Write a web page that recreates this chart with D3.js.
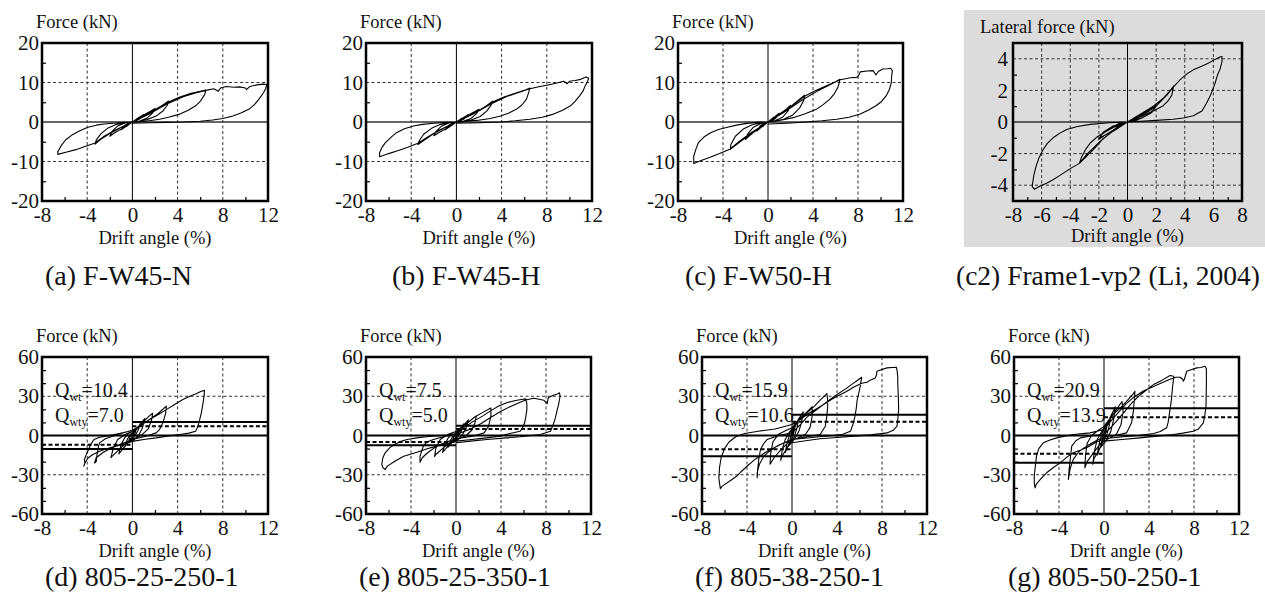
<!DOCTYPE html>
<html>
<head>
<meta charset="utf-8">
<script src="https://cdn.jsdelivr.net/npm/d3@7"></script>
<style>
  body { margin: 0; background: #fff; }
  svg text { font-family: "Liberation Serif", "Times New Roman", serif; fill: #111; }
</style>
</head>
<body>
<svg id="chart" width="1265" height="601"></svg>
<script>
// ---- data ----
const captions = [
    '(a) F-W45-N', '(b) F-W45-H', '(c) F-W50-H', '(c2) Frame1-vp2 (Li, 2004)',
    '(d) 805-25-250-1', '(e) 805-25-350-1', '(f) 805-38-250-1', '(g) 805-50-250-1',
];
const yTitles = [
    'Force (kN)', 'Force (kN)', 'Force (kN)', 'Lateral force (kN)',
    'Force (kN)', 'Force (kN)', 'Force (kN)', 'Force (kN)',
];
const xTitle = 'Drift angle (%)';

const xTicksWide = [-8, -4, 0, 4, 8, 12];
const xMinorWide = [-6, -2, 2, 6, 10];
const xTicksLi = [-8, -6, -4, -2, 0, 2, 4, 6, 8];
const xMinorLi = [-7, -5, -3, -1, 1, 3, 5, 7];
const yTicksTop = [-20, -10, 0, 10, 20];
const yMinorTop = [-15, -5, 5, 15];
const yTicksLi = [-4, -2, 0, 2, 4];
const yMinorLi = [-3, -1, 1, 3];
const yTicksBottom = [-60, -30, 0, 30, 60];
const yMinorBottom = [-50, -40, -20, -10, 10, 20, 40, 50];

const qwtValues = [10.4, 7.5, 15.9, 20.9];
const qwtyValues = [7.0, 5.0, 10.6, 13.9];

// drift angle (%), force (kN)
const curveA = [
    [0,0],[0.3,0.6],[0.5,1.0],[0.3,0.4],[0,0],[-0.3,-0.6],[-0.5,-1.1],[-0.3,-0.4],[0,0],
    [0.5,1.0],[1.0,1.9],[0.7,0.9],[0.3,0.2],[0,0],[-0.5,-1.0],[-1.0,-2.0],[-0.7,-0.9],[-0.3,-0.2],[0,0],
    [1.0,1.8],[1.6,2.7],[2.0,3.4],[1.8,2.3],[1.3,1.0],[0.6,0.2],[0,0],[-1.0,-1.8],[-1.6,-2.8],[-2.0,-3.6],[-1.8,-2.4],[-1.3,-1.0],[-0.6,-0.2],[0,0],
    [1.0,1.6],[2.0,3.1],[2.7,4.3],[3.2,5.3],[3.1,4.3],[2.7,2.8],[2.1,1.5],[1.3,0.6],[0.5,0.1],[0,0],
    [-1.0,-1.4],[-2.0,-2.9],[-2.8,-4.4],[-3.3,-5.6],[-3.2,-4.6],[-2.8,-3.0],[-2.2,-1.6],[-1.4,-0.6],[-0.5,-0.1],[0,0],
    [1.5,2.3],[2.5,3.8],[3.3,5.2],[4.2,6.3],[5.2,7.3],[6.0,7.8],[6.5,8.1],[6.4,7.0],[6.0,5.2],[5.6,4.1],[4.9,2.9],[4.2,2.0],[3.2,1.2],[2.4,0.7],[1.2,0.2],[0,0],
    [-1.5,-2.0],[-2.5,-3.6],[-3.3,-5.3],[-4.2,-6.2],[-5.0,-7.0],[-5.8,-7.6],[-6.6,-8.2],[-6.6,-7.5],[-6.3,-6.0],[-5.9,-4.5],[-5.3,-3.2],[-4.7,-2.3],[-4.0,-1.4],[-3.2,-0.8],[-2.5,-0.5],[-1.7,-0.3],[-0.8,-0.1],[0,0],
    [1.5,2.0],[3.0,4.5],[4.5,6.4],[5.5,7.3],[6.5,8.0],[7.2,8.4],[7.6,7.8],[7.8,8.6],[8.3,9.0],[9.0,8.8],[9.5,8.9],[10.0,8.6],[10.1,8.2],[10.4,9.0],[11.0,9.4],[11.6,9.6],[11.9,9.5],
    [11.8,8.5],[11.6,7.4],[11.2,5.8],[10.8,4.4],[10.3,3.2],[9.6,2.3],[8.9,1.5],[8.0,0.9],[7.1,0.5],[6.0,0.2],[4.5,0.0],[3.0,-0.1],[1.5,-0.2],[0,-0.3],
];
const curveB = [
    [0,0],[0.3,0.6],[0.5,1.0],[0.3,0.4],[0,0],[-0.3,-0.6],[-0.5,-1.0],[-0.3,-0.4],[0,0],
    [0.5,0.9],[1.0,1.8],[0.7,0.8],[0.3,0.2],[0,0],[-0.5,-1.0],[-1.0,-2.0],[-0.7,-0.9],[-0.3,-0.2],[0,0],
    [1.0,1.7],[1.6,2.6],[2.0,3.2],[1.8,2.2],[1.3,0.9],[0.6,0.2],[0,0],[-1.0,-1.8],[-1.6,-2.8],[-2.0,-3.5],[-1.8,-2.4],[-1.3,-1.0],[-0.6,-0.2],[0,0],
    [1.0,1.5],[2.0,2.9],[2.7,4.2],[3.2,5.3],[3.1,4.4],[2.7,2.8],[2.1,1.4],[1.3,0.5],[0.5,0.1],[0,0],
    [-1.0,-1.4],[-2.0,-2.9],[-2.8,-4.5],[-3.4,-5.7],[-3.3,-4.8],[-2.9,-3.1],[-2.2,-1.6],[-1.4,-0.6],[-0.5,-0.1],[0,0],
    [1.5,2.2],[2.5,3.7],[3.3,5.2],[4.2,6.3],[5.2,7.3],[6.0,8.0],[6.5,8.6],[6.4,7.5],[6.2,5.8],[5.8,4.3],[5.3,3.2],[4.6,2.2],[3.9,1.5],[3.0,0.9],[1.8,0.4],[0,0],
    [-1.5,-2.0],[-2.5,-3.7],[-3.4,-5.4],[-4.3,-6.4],[-5.2,-7.3],[-6.0,-8.0],[-6.8,-8.8],[-6.8,-7.8],[-6.6,-6.5],[-6.3,-5.3],[-5.8,-3.9],[-5.3,-2.7],[-4.6,-1.7],[-3.8,-1.0],[-3.0,-0.6],[-2.0,-0.3],[-1.0,-0.1],[0,0],
    [1.5,2.0],[3.0,4.5],[4.5,6.5],[5.5,7.5],[6.5,8.4],[7.4,9.0],[8.0,9.3],[8.8,9.8],[9.5,10.3],[9.8,9.7],[10.0,10.3],[10.5,10.5],[11.0,10.8],[11.3,11.2],[11.5,11.4],[11.7,11.1],
    [11.6,10.2],[11.4,9.2],[11.2,7.8],[10.9,6.6],[10.5,5.2],[10.1,4.1],[9.4,3.0],[8.6,2.0],[7.6,1.2],[6.5,0.7],[5.2,0.3],[3.9,0.0],[2.0,-0.2],[0,-0.3],
];
const curveC = [
    [0,0],[0.3,0.7],[0.5,1.2],[0.3,0.5],[0,0],[-0.3,-0.7],[-0.5,-1.2],[-0.3,-0.5],[0,0],
    [0.5,1.1],[1.0,2.2],[0.7,1.0],[0.3,0.2],[0,0],[-0.5,-1.1],[-1.0,-2.3],[-0.7,-1.0],[-0.3,-0.2],[0,0],
    [1.0,2.0],[1.6,3.2],[2.0,4.2],[1.8,2.9],[1.3,1.2],[0.6,0.3],[0,0],[-1.0,-2.0],[-1.6,-3.4],[-2.0,-4.4],[-1.8,-3.0],[-1.3,-1.3],[-0.6,-0.3],[0,0],
    [1.0,1.9],[2.0,3.9],[2.7,5.5],[3.25,6.8],[3.2,5.6],[2.8,3.5],[2.2,1.8],[1.4,0.7],[0.5,0.1],[0,0],
    [-1.0,-1.9],[-2.0,-4.0],[-2.8,-5.7],[-3.35,-6.9],[-3.3,-5.7],[-2.9,-3.6],[-2.2,-1.8],[-1.4,-0.7],[-0.5,-0.1],[0,0],
    [1.5,2.9],[2.5,4.9],[3.3,6.6],[4.2,7.9],[5.2,9.2],[6.0,10.2],[6.4,10.8],[6.3,9.6],[6.2,8.7],[5.9,7.2],[5.5,5.8],[4.9,4.4],[4.3,3.2],[3.3,2.1],[2.25,1.1],[1.0,0.4],[0,0],
    [-1.5,-2.7],[-2.5,-4.8],[-3.4,-6.9],[-4.3,-8.0],[-5.2,-9.0],[-6.0,-9.8],[-6.6,-10.5],[-6.6,-9.6],[-6.6,-8.6],[-6.4,-6.8],[-6.2,-5.3],[-5.7,-3.8],[-5.1,-2.7],[-4.4,-1.9],[-3.7,-1.4],[-2.8,-0.8],[-1.9,-0.35],[-0.9,-0.1],[0,0],
    [1.5,2.6],[3.0,5.5],[4.5,8.0],[5.5,9.4],[6.4,10.7],[7.0,11.0],[7.3,11.2],[7.9,11.3],[8.1,12.0],[8.2,12.7],[8.8,12.9],[9.35,13.0],[9.6,11.9],[9.8,12.8],[10.2,13.4],[10.6,13.5],[10.9,13.6],[11.05,13.0],
    [11.0,11.8],[10.96,10.0],[10.8,8.3],[10.5,6.6],[10.1,5.2],[9.6,4.1],[8.9,3.0],[8.15,1.95],[7.2,1.2],[6.1,0.7],[4.8,0.3],[3.4,0.0],[1.7,-0.3],[0,-0.5],
];
const curveLi = [
    [0,0],[0.5,0.25],[1.0,0.5],[0.6,0.2],[0,0],[-0.5,-0.25],[-1.0,-0.55],[-0.6,-0.2],[0,0],
    [0.7,0.35],[1.4,0.7],[2.0,1.0],[1.8,0.75],[1.3,0.4],[0.6,0.1],[0,0],[-0.7,-0.35],[-1.4,-0.75],[-2.0,-1.05],[-1.8,-0.8],[-1.3,-0.45],[-0.6,-0.1],[0,0],
    [0.8,0.45],[1.5,0.8],[2.0,1.05],[1.7,0.6],[1.0,0.25],[0,0],[-0.8,-0.4],[-1.5,-0.8],[-2.0,-1.1],[-1.7,-0.65],[-1.0,-0.25],[0,0],
    [0.9,0.5],[1.8,1.0],[2.5,1.5],[2.9,1.9],[3.22,2.28],[3.1,1.7],[2.8,1.3],[2.5,1.03],[1.9,0.75],[1.35,0.5],[0.6,0.2],[0,0],
    [-1.0,-0.58],[-1.7,-1.05],[-2.4,-1.76],[-2.9,-2.2],[-3.36,-2.62],[-3.2,-2.2],[-2.9,-1.7],[-2.6,-1.33],[-2.2,-1.0],[-1.7,-0.69],[-0.9,-0.3],[0,0],
    [0.7,0.3],[1.35,0.6],[2.0,1.0],[2.75,1.7],[3.2,2.2],[3.7,2.7],[4.16,3.05],[4.6,3.3],[5.1,3.5],[5.6,3.7],[6.0,3.9],[6.4,4.1],[6.6,4.15],
    [6.6,3.8],[6.45,3.3],[6.3,3.0],[6.1,2.4],[5.8,1.7],[5.5,1.15],[5.2,0.7],[4.6,0.4],[3.9,0.25],[3.2,0.17],[2.0,0.1],[0.9,0.04],[0,0],
    [-1.0,-0.55],[-2.0,-1.3],[-2.8,-2.0],[-3.36,-2.62],[-4.0,-2.95],[-4.72,-3.38],[-5.2,-3.65],[-5.65,-3.87],[-6.1,-4.05],[-6.5,-4.25],[-6.65,-4.1],[-6.65,-4.0],
    [-6.55,-3.4],[-6.4,-2.84],[-6.2,-2.3],[-5.9,-1.76],[-5.6,-1.35],[-5.2,-1.0],[-4.75,-0.72],[-4.25,-0.47],[-3.5,-0.28],[-2.6,-0.15],[-1.3,-0.05],[0,0],
];
const curveD = [
    [0,0],[0.2,3],[0.4,6],[0.2,1],[0,-1],[-0.2,-3],[-0.4,-6],[-0.2,-1],[0,1],
    [0.4,5],[0.7,9],[0.5,4],[0.2,-1],[-0.3,-4],[-0.7,-9],[-0.5,-4],[-0.2,1],[0,2],
    [0.5,6],[1.0,12],[1.1,13],[0.9,6],[0.6,1],[0.2,-3],[-0.5,-6],[-1.0,-12],[-1.2,-14],[-1.0,-7],[-0.7,-2],[-0.3,2],[0,3],
    [0.8,9],[1.5,15],[1.8,17],[1.7,12],[1.4,5],[0.9,1],[0.3,-2],[-0.5,-5],[-1.2,-11],[-1.8,-16],[-1.9,-17],[-1.7,-10],[-1.3,-3],[-0.6,1],[0,3],
    [0.8,8],[1.5,12.2],[2.3,17],[3.0,22.5],[2.95,17.3],[2.7,9.7],[2.4,4.5],[2.1,2],[1.2,-0.5],[0,-3],
    [-1.0,-6.5],[-1.75,-9],[-2.6,-13],[-3.2,-17],[-3.35,-21],[-3.2,-20],[-3.15,-15.8],[-3.0,-8],[-2.9,-5.6],[-2.4,-2.5],[-1.75,-0.5],[-1.0,1.5],[0,4],
    [0.8,8],[1.5,12.2],[2.3,16],[3.0,19.8],[3.7,23.5],[4.46,27.5],[5.1,30],[5.64,32],[6.0,33.5],[6.38,34.6],
    [6.35,31],[6.3,27.5],[6.2,22],[6.1,17.3],[5.95,12],[5.8,7.1],[5.6,3.3],[5.0,1.8],[4.2,0.8],[3.1,-0.5],[2.1,-1.8],[1.0,-3],[0,-4.5],
    [-0.7,-6.5],[-1.45,-8.1],[-2.2,-10],[-2.9,-12],[-3.5,-14.5],[-3.9,-17],[-4.1,-19.5],[-4.25,-22],[-4.3,-23.4],
    [-4.2,-21],[-4.25,-18.3],[-4.1,-15],[-3.95,-12],[-3.7,-7],[-3.4,-3],[-2.9,-1.3],[-2.33,-0.5],[-1.7,0.5],[-1.15,1.5],[-0.5,2.8],[0,4],
];
const curveE = [
    [0,0],[0.2,3],[0.4,6],[0.2,1],[0,-1],[-0.2,-3],[-0.4,-6],[-0.2,-1],[0,1],
    [0.4,5],[0.7,9],[0.5,4],[0.2,-1],[-0.3,-4],[-0.7,-9],[-0.5,-4],[-0.2,1],[0,2],
    [0.5,6],[1.0,11],[1.1,12],[0.9,6],[0.6,1],[0.2,-3],[-0.5,-6],[-1.0,-11],[-1.2,-13],[-1.0,-7],[-0.7,-2],[-0.3,2],[0,3],
    [0.8,8],[1.5,13],[1.8,15],[1.7,10],[1.4,4],[0.9,0],[0.3,-2.5],[-0.5,-5],[-1.2,-10],[-1.8,-14.5],[-1.9,-16],[-1.8,-10],[-1.4,-3],[-0.7,1],[0,3],
    [0.8,8],[1.57,13.5],[2.3,17.3],[3.1,21],[3.1,17.5],[3.1,14.8],[2.9,7.1],[2.5,2],[1.5,-0.5],[0,-2.5],
    [-0.8,-4.8],[-1.7,-8.1],[-2.5,-13],[-3.0,-17],[-3.2,-20.4],[-3.2,-18],[-3.2,-15.8],[-2.9,-8.1],[-2.6,-5],[-2,-3],[-1.0,-0.5],[0,0.8],
    [0.7,6],[1.57,11],[2.4,15],[3.1,19],[3.8,22.5],[4.5,25],[5.3,26.8],[5.8,27.5],[6.2,28],
    [6.3,24],[6.3,19.8],[6.2,14],[6.1,9.7],[5.9,5.5],[5.7,3.3],[4.8,1.5],[3.9,-0.5],[2.5,-2],[1.2,-3.2],[0,-4.3],
    [-1.0,-6.5],[-1.7,-8.1],[-2.5,-10],[-3.2,-12],[-3.9,-14],[-4.65,-15.8],[-5.4,-19.5],[-6.1,-23.4],[-6.3,-26],
    [-6.5,-24.5],[-6.6,-22],[-6.5,-17],[-6.3,-13.2],[-5.9,-9.5],[-5.5,-6.9],[-4.9,-4.5],[-4.35,-3],[-3.5,-1.8],[-2.6,-1],[-1.3,0],[0,0.8],
    [1.3,5],[2.2,9],[3.1,14],[4.0,18.5],[4.8,22],[5.6,25],[6.2,27.2],[6.9,28.5],[7.5,27.5],[7.8,27],[8.1,24.4],[8.2,28.8],[8.6,30.5],[9.0,31.8],[9.2,32.6],
    [9.25,30],[9.2,27.5],[9.1,23],[9.0,19.8],[8.85,14],[8.7,9.7],[8.4,3.3],[7.5,0.8],[5.7,-1],[4.2,-2],[2.75,-3],[1.3,-4.3],[0,-5.6],
];
const curveF = [
    [0,0],[0.15,4],[0.3,8],[0.15,2],[0,-2],[-0.15,-4],[-0.3,-8],[-0.15,-2],[0,2],
    [0.3,7],[0.6,13],[0.45,6],[0.2,-1],[-0.3,-7],[-0.6,-13],[-0.45,-6],[-0.2,1],[0,4],
    [0.5,11],[0.9,17],[1.0,18],[0.85,10],[0.6,3],[0.2,-3],[-0.4,-9],[-0.9,-16],[-1.0,-19],[-0.85,-10],[-0.6,-3],[-0.2,3],[0,5],
    [0.7,13],[1.33,18],[1.8,22],[1.8,15],[1.6,6],[1.2,1],[0.5,-2],[-0.3,-5],[-1.0,-11],[-1.6,-17],[-1.95,-22],[-1.9,-14],[-1.7,-5],[-1.2,1],[-0.5,4],[0,6],
    [0.7,13],[1.33,17.3],[2.0,22.5],[2.5,27],[3.1,32],[3.17,27],[3.17,22.4],[3.1,15],[2.96,7.1],[2.5,0.8],[1.3,-1],[0,-3],
    [-0.7,-5.5],[-1.33,-8.1],[-2.0,-12],[-2.5,-15.8],[-2.9,-22],[-3.1,-28.5],[-3.1,-32.3],[-3.05,-26],[-2.95,-18],[-2.8,-10.7],[-2.5,-6],[-2.2,-3],[-1.2,0],[0,2],
    [0.7,8],[1.33,14],[2.0,18.5],[2.67,22.9],[3.3,27],[4.0,31.3],[4.8,35.8],[5.5,40.2],[5.8,42],[6.2,44.5],
    [6.1,40],[6.07,37.7],[5.9,31],[5.8,27.5],[5.7,20],[5.6,14.8],[5.4,8],[5.2,3.3],[4.5,1],[3.7,0],[2.2,-1.2],[0,-3],
    [-0.8,-6],[-1.5,-9],[-2.2,-12],[-2.8,-15.5],[-3.4,-19],[-4.0,-23.5],[-4.5,-27.5],[-4.9,-31],[-5.4,-34],[-5.9,-37],[-6.2,-38.7],[-6.37,-40.7],
    [-6.5,-33],[-6.45,-25],[-6.3,-17],[-6.0,-10],[-5.6,-5],[-5.0,-1],[-4.2,1.5],[-3.0,3.3],[-1.5,5],[0,8.4],
    [0.7,12],[1.33,16],[2.0,19.5],[2.67,23],[3.5,27.5],[4.0,30],[4.8,33.5],[5.5,37],[6.2,40],[6.67,40.7],[7.0,42.5],[7.4,44],[7.5,46],[7.55,49.1],[8.0,50.5],[8.44,51.7],[8.9,52],[9.27,52.2],
    [9.33,50.4],[9.4,45],[9.4,40.2],[9.45,30],[9.48,19.8],[9.4,12],[9.33,7.1],[9.0,4],[8.44,2],[7.0,0.5],[5.48,-0.5],[4.0,-1.5],[2.5,-2.5],[1.2,-4],[0,-5.6],
];
const curveG = [
    [0,0],[0.15,4],[0.3,9],[0.15,2],[0,-2],[-0.15,-4],[-0.3,-9],[-0.15,-2],[0,2],
    [0.3,8],[0.6,15],[0.45,7],[0.2,-1],[-0.3,-8],[-0.6,-15],[-0.45,-7],[-0.2,1],[0,5],
    [0.5,13],[0.9,20],[1.0,22],[0.85,12],[0.6,3],[0.2,-4],[-0.4,-10],[-0.9,-18],[-1.0,-22],[-0.85,-12],[-0.6,-3],[-0.2,3],[0,6],
    [0.7,15],[1.2,21],[1.6,26],[1.7,18],[1.5,8],[1.1,1],[0.5,-2],[-0.3,-6],[-1.0,-14],[-1.5,-20],[-1.7,-24.7],[-1.65,-16],[-1.5,-6],[-1.1,0],[-0.5,4],[0,7],
    [0.7,15],[1.42,21],[2.0,26],[2.6,31.8],[2.75,33.8],[2.7,27.5],[2.6,18],[2.45,9.7],[2.0,2],[1.0,0],[0,-1],
    [-0.7,-4],[-1.54,-8.1],[-2.2,-12],[-2.73,-18.3],[-3.0,-25],[-3.17,-33.6],[-3.1,-26],[-3.0,-18],[-2.87,-8.1],[-2.5,-4],[-2.1,-1.8],[-1.0,0],[0,0.8],
    [0.7,7],[1.42,14],[2.0,20],[2.6,26],[3.2,31],[3.8,35],[4.4,38.9],[5.2,42.5],[5.87,45.8],[6.2,45.3],
    [6.15,41],[6.1,37.7],[6.0,28],[5.87,19.8],[5.7,10],[5.57,5.9],[5.0,3],[4.4,1.5],[3.0,0],[1.7,-1],[0,-2.5],
    [-0.8,-5.5],[-1.54,-9.4],[-2.2,-11.5],[-2.73,-13.2],[-3.3,-16.5],[-3.9,-20.9],[-4.5,-24.5],[-5.1,-28.5],[-5.6,-33],[-6.0,-37],[-6.13,-40],
    [-6.2,-36],[-6.2,-31],[-6.1,-23],[-6.0,-15.8],[-5.8,-10],[-5.4,-5.6],[-4.8,-3.5],[-4.2,-1.8],[-3.5,-0.5],[-2.7,0.8],[-1.24,2],[0,4.6],
    [0.7,12],[1.42,19],[2.0,24.5],[2.6,29],[3.5,34],[4.4,37.5],[5.2,40.5],[5.87,43],[6.4,44.5],[6.76,44.5],[7.0,43],[7.05,41.5],[7.15,43],[7.35,49.1],[7.8,50.5],[8.24,51.7],[8.6,52],[8.98,52.9],
    [9.1,51],[9.1,45],[9.1,40.2],[9.08,30],[9.07,22.4],[8.95,15],[8.83,9.7],[8.4,5],[7.94,3.3],[7.0,1.8],[6.16,0.8],[4.7,-0.5],[3.2,-1.8],[1.6,-3],[0,-4.3],
];

const curves = [curveA, curveB, curveC, curveLi, curveD, curveE, curveF, curveG];

// ---- layout (pixel boxes of each plot frame) ----
const boxes = [
    { x: 42, y: 43, w: 226, h: 158, capX: 45, capY: 285 },
    { x: 366, y: 43, w: 226, h: 158, capX: 392, capY: 285 },
    { x: 678, y: 43, w: 225, h: 158, capX: 685, capY: 285 },
    { x: 1013, y: 43, w: 229, h: 158, capX: 956, capY: 285 },
    { x: 42, y: 357, w: 226, h: 157, capX: 45, capY: 586 },
    { x: 366, y: 357, w: 225, h: 157, capX: 359, capY: 586 },
    { x: 702, y: 357, w: 225, h: 157, capX: 695, capY: 586 },
    { x: 1014, y: 357, w: 225, h: 157, capX: 1008, capY: 586 },
];

const serif = '"Liberation Serif", "Times New Roman", serif';
const svg = d3.select('#chart');

// grey backdrop behind the Li (2004) panel
svg.append('rect')
    .attr('x', 964).attr('y', 10)
    .attr('width', 301).attr('height', 237)
    .attr('fill', '#dcdcdc');

const line = (x, y) => d3.line().x((d) => x(d[0])).y((d) => y(d[1]));
const plain = (d) => String(d); // keep ASCII hyphen for negatives

boxes.forEach((b, i) => {
    const isLi = i === 3;
    const isBottom = i >= 4;

    const xTicks = isLi ? xTicksLi : xTicksWide;
    const xMinor = isLi ? xMinorLi : xMinorWide;
    const yTicks = isLi ? yTicksLi : isBottom ? yTicksBottom : yTicksTop;
    const yMinor = isLi ? yMinorLi : isBottom ? yMinorBottom : yMinorTop;
    const xDomain = isLi ? [-8, 8] : [-8, 12];
    const yDomain = isLi ? [-5, 5] : isBottom ? [-60, 60] : [-20, 20];

    const x = d3.scaleLinear().domain(xDomain).range([0, b.w]);
    const y = d3.scaleLinear().domain(yDomain).range([b.h, 0]);

    const g = svg.append('g').attr('transform', `translate(${b.x},${b.y})`);

    // dashed grid
    g.append('g')
        .selectAll('line')
        .data(xTicks.filter((t) => t !== 0 && t !== xDomain[0] && t !== xDomain[1]))
        .join('line')
        .attr('x1', (d) => x(d)).attr('x2', (d) => x(d))
        .attr('y1', 0).attr('y2', b.h)
        .attr('stroke', '#333').attr('stroke-width', 1)
        .attr('stroke-dasharray', '3,2.5');
    g.append('g')
        .selectAll('line')
        .data(yTicks.filter((t) => t !== 0 && t !== yDomain[0] && t !== yDomain[1]))
        .join('line')
        .attr('x1', 0).attr('x2', b.w)
        .attr('y1', (d) => y(d)).attr('y2', (d) => y(d))
        .attr('stroke', '#333').attr('stroke-width', 1)
        .attr('stroke-dasharray', '3,2.5');

    // zero lines
    g.append('line')
        .attr('x1', x(0)).attr('x2', x(0))
        .attr('y1', 0).attr('y2', b.h)
        .attr('stroke', '#000').attr('stroke-width', 1);
    g.append('line')
        .attr('x1', 0).attr('x2', b.w)
        .attr('y1', y(0)).attr('y2', y(0))
        .attr('stroke', isBottom ? '#000' : '#333')
        .attr('stroke-width', isBottom ? 2 : 1.6);

    // Q_wt / Q_wty reference lines
    if (isBottom) {
        const k = i - 4;
        const refs = [
            { v: qwtValues[k], dash: null },
            { v: qwtyValues[k], dash: '4,2.5' },
        ];
        refs.forEach((r) => {
            [[0, 12, r.v], [-8, 0, -r.v]].forEach(([a, c, v]) => {
                g.append('line')
                    .attr('x1', x(a)).attr('x2', x(c))
                    .attr('y1', y(v)).attr('y2', y(v))
                    .attr('stroke', '#000').attr('stroke-width', 2)
                    .attr('stroke-dasharray', r.dash);
            });
        });
    }

    // hysteresis curve
    g.append('path')
        .datum(curves[i])
        .attr('d', line(x, y))
        .attr('fill', 'none')
        .attr('stroke', '#000')
        .attr('stroke-width', 1.1)
        .attr('stroke-linejoin', 'round');

    // minor ticks (inside)
    g.append('g')
        .call(d3.axisLeft(y).tickValues(yMinor).tickSize(-4).tickFormat(''))
        .call((s) => s.select('.domain').remove())
        .selectAll('line').attr('stroke', '#000').attr('stroke-width', 1.2);
    g.append('g')
        .attr('transform', `translate(0,${b.h})`)
        .call(d3.axisBottom(x).tickValues(xMinor).tickSize(-4).tickFormat(''))
        .call((s) => s.select('.domain').remove())
        .selectAll('line').attr('stroke', '#000').attr('stroke-width', 1.2);

    // tick labels
    const yAx = g.append('g')
        .call(d3.axisLeft(y).tickValues(yTicks).tickSize(0).tickPadding(isLi ? 5 : 3).tickFormat(plain));
    yAx.select('.domain').remove();
    yAx.attr('font-family', serif);
    yAx.selectAll('text')
        .style('font-family', serif)
        .style('font-size', '21px')
        .attr('fill', '#111');

    const xAx = g.append('g')
        .attr('transform', `translate(0,${b.h})`)
        .call(d3.axisBottom(x).tickValues(xTicks).tickSize(0).tickPadding(6).tickFormat(plain));
    xAx.select('.domain').remove();
    xAx.attr('font-family', serif);
    xAx.selectAll('text')
        .style('font-family', serif)
        .style('font-size', '21px')
        .attr('fill', '#111');

    // frame
    g.append('rect')
        .attr('width', b.w).attr('height', b.h)
        .attr('fill', 'none')
        .attr('stroke', '#000')
        .attr('stroke-width', 2.5);

    // titles
    g.append('text')
        .attr('x', isLi ? -33 : -6)
        .attr('y', isLi ? -10 : -15)
        .style('font-size', '18.5px')
        .text(yTitles[i]);
    g.append('text')
        .attr('x', b.w / 2)
        .attr('y', b.h + (isLi ? 41 : 43))
        .attr('text-anchor', 'middle')
        .style('font-size', '18.5px')
        .text(xTitle);

    // Q labels
    if (isBottom) {
        const k = i - 4;
        [['wt', qwtValues[k], 40], ['wty', qwtyValues[k], 65]].forEach(([sub, v, dy]) => {
            const t = g.append('text')
                .attr('x', 13).attr('y', dy)
                .style('font-size', '20px');
            t.append('tspan').text('Q');
            t.append('tspan').style('font-size', '12px').attr('dy', 4).text(sub);
            t.append('tspan').attr('dy', -4).text('=' + v.toFixed(1));
        });
    }

    // caption
    svg.append('text')
        .attr('x', b.capX).attr('y', b.capY)
        .style('font-size', isLi ? '27.5px' : '28px')
        .text(captions[i]);
});
</script>
</body>
</html>
